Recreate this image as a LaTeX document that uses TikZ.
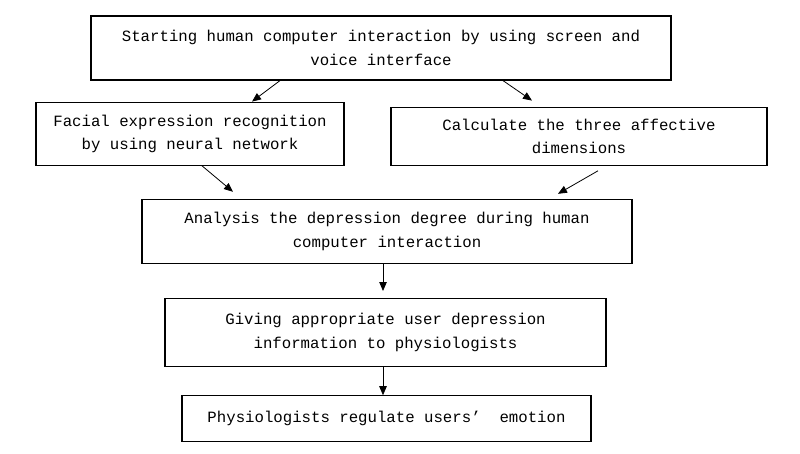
\documentclass[tikz,border=0pt]{standalone}
\usepackage{fontspec}
\setmainfont{Liberation Mono}
\usepackage{tikz}
\usetikzlibrary{positioning}
\usetikzlibrary{arrows.meta}

\begin{document}
\begin{tikzpicture}[x=1pt, y=1pt]

\tikzstyle{stage} = [rectangle, draw=black, line width=1.2pt, inner sep=0pt, align=center, font=\fontsize{15.7pt}{23.5pt}\selectfont]
\tikzstyle{arrow} = [line width=0.8pt, -{Triangle[length=9pt, width=7.5pt]}]

\useasboundingbox (0,0) rectangle (800,-453);

\node (start) [stage, minimum width=580pt, minimum height=64pt] at (381,-48) {Starting human computer interaction by using screen and\\ voice interface};
\node (face) [stage, below=21pt of start, xshift=-191pt, minimum width=308pt, minimum height=63pt] {Facial expression recognition\\ by using neural network};
\node (affect) [stage, below=26pt of start, xshift=198pt, minimum width=376pt, minimum height=58pt] {Calculate the three affective\\ dimensions};
\node (analysis) [stage, below=33pt of face, xshift=197pt, minimum width=490pt, minimum height=64pt] {Analysis the depression degree during human\\ computer interaction};
\node (inform) [stage, below=34pt of analysis, xshift=-1.5pt, minimum width=441pt, minimum height=68pt] {Giving appropriate user depression\\ information to physiologists};
\node (regulate) [stage, below=28pt of inform, xshift=1pt, minimum width=409pt, minimum height=46pt] {Physiologists regulate users’~ emotion};

\draw [arrow] ([xshift=-101pt]start.south) -- ([xshift=62pt]face.north);
\draw [arrow] ([xshift=122pt]start.south) -- ([xshift=-47pt, yshift=6pt]affect.north);
\draw [arrow] ([xshift=12pt]face.south) -- ([xshift=-154pt, yshift=7pt]analysis.north);
\draw [arrow] ([xshift=19pt, yshift=-5pt]affect.south) -- ([xshift=171pt, yshift=5pt]analysis.north);
\draw [arrow] ([xshift=-4pt]analysis.south) -- ([xshift=-2.5pt, yshift=7pt]inform.north);
\draw [arrow] ([xshift=-2.5pt]inform.south) -- ([xshift=-3.5pt]regulate.north);
\end{tikzpicture}
\end{document}
